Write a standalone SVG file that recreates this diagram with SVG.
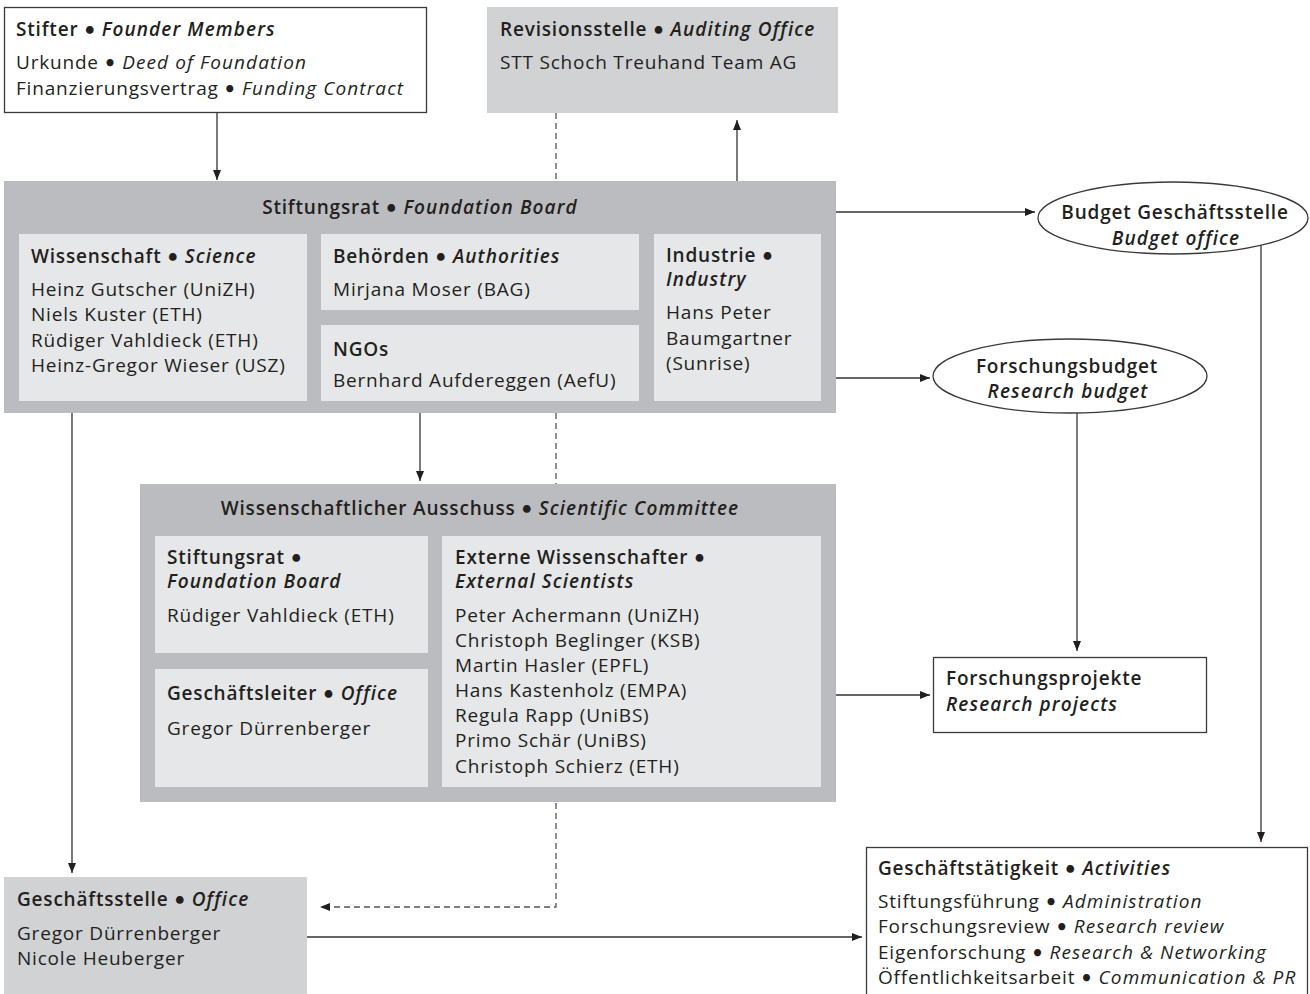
<svg xmlns="http://www.w3.org/2000/svg" width="1310" height="994" viewBox="0 0 1310 994">
<style>
text{font-family:"Open Sans",Lato,"Liberation Sans",sans-serif;font-size:19px;letter-spacing:0.8px;fill:#231f20}
.h{font-weight:600}
.i{font-style:italic;letter-spacing:1.1px}
.b{font-family:Lato,"Open Sans",sans-serif;font-style:normal}
.c{text-anchor:middle}
.outline{fill:#fff;stroke:#3a3a3a;stroke-width:1.3}
.grey{fill:#d1d2d4}
.dark{fill:#bbbcbf}
.light{fill:#e6e7e8}
.con{fill:none;stroke:#333;stroke-width:1.3}
.dash{fill:none;stroke:#555;stroke-width:1.3;stroke-dasharray:6 4}
</style>
<defs>
<marker id="ah" markerUnits="userSpaceOnUse" markerWidth="11" markerHeight="9" refX="10" refY="4" orient="auto">
<path d="M0,0 L10,4 L0,8 z" fill="#231f20"/>
</marker>
</defs>
<rect width="1310" height="994" fill="#fff"/>
<g id="connectors">
<path class="dash" d="M556 113 V907 H320" marker-end="url(#ah)"/>
<path class="con" d="M217 113 V180" marker-end="url(#ah)"/>
<path class="con" d="M737 181 V120" marker-end="url(#ah)"/>
<path class="con" d="M836 212 H1035" marker-end="url(#ah)"/>
<path class="con" d="M836 378 H930" marker-end="url(#ah)"/>
<path class="con" d="M420 413 V481" marker-end="url(#ah)"/>
<path class="con" d="M72 413 V873" marker-end="url(#ah)"/>
<path class="con" d="M1261 245 V842" marker-end="url(#ah)"/>
<path class="con" d="M1077 413 V651" marker-end="url(#ah)"/>
<path class="con" d="M836 695 H930" marker-end="url(#ah)"/>
<path class="con" d="M307 937 H862" marker-end="url(#ah)"/>
</g>
<g id="stifter">
<rect class="outline" x="4.5" y="7.5" width="422" height="105"/>
<text x="16" y="36" class="h">Stifter <tspan class="b">•</tspan> <tspan class="i">Founder Members</tspan></text>
<text x="16" y="69">Urkunde <tspan class="b">•</tspan> <tspan class="i">Deed of Foundation</tspan></text>
<text x="16" y="95">Finanzierungsvertrag <tspan class="b">•</tspan> <tspan class="i">Funding Contract</tspan></text>
</g>
<g id="revisionsstelle">
<rect class="grey" x="487" y="7" width="351" height="106"/>
<text x="500" y="36" class="h">Revisionsstelle <tspan class="b">•</tspan> <tspan class="i">Auditing Office</tspan></text>
<text x="500" y="69">STT Schoch Treuhand Team AG</text>
</g>
<g id="stiftungsrat">
<rect class="dark" x="4" y="181" width="832" height="232"/>
<text x="420" y="214" class="h c">Stiftungsrat <tspan class="b">•</tspan> <tspan class="i">Foundation Board</tspan></text>
<g id="wissenschaft">
<rect class="light" x="19" y="234" width="288" height="167"/>
<text x="31" y="263" class="h">Wissenschaft <tspan class="b">•</tspan> <tspan class="i">Science</tspan></text>
<text x="31" y="296">Heinz Gutscher (UniZH)</text>
<text x="31" y="321">Niels Kuster (ETH)</text>
<text x="31" y="347">Rüdiger Vahldieck (ETH)</text>
<text x="31" y="372">Heinz-Gregor Wieser (USZ)</text>
</g>
<g id="behoerden">
<rect class="light" x="321" y="234" width="318" height="76"/>
<text x="333" y="263" class="h">Behörden <tspan class="b">•</tspan> <tspan class="i">Authorities</tspan></text>
<text x="333" y="296">Mirjana Moser (BAG)</text>
</g>
<g id="ngos">
<rect class="light" x="321" y="325" width="318" height="76"/>
<text x="333" y="356" class="h">NGOs</text>
<text x="333" y="387">Bernhard Aufdereggen (AefU)</text>
</g>
<g id="industrie">
<rect class="light" x="654" y="234" width="167" height="167"/>
<text x="666" y="262" class="h">Industrie <tspan class="b">•</tspan></text>
<text x="666" y="286" class="h i">Industry</text>
<text x="666" y="319">Hans Peter</text>
<text x="666" y="345">Baumgartner</text>
<text x="666" y="370">(Sunrise)</text>
</g>
</g>
<g id="budget-geschaeftsstelle">
<ellipse class="outline" cx="1173" cy="218" rx="135" ry="36"/>
<text x="1175" y="219" class="h c">Budget Geschäftsstelle</text>
<text x="1176" y="245" class="h i c">Budget office</text>
</g>
<g id="forschungsbudget">
<ellipse class="outline" cx="1070" cy="376" rx="137" ry="37"/>
<text x="1067" y="373" class="h c">Forschungsbudget</text>
<text x="1068" y="398" class="h i c">Research budget</text>
</g>
<g id="ausschuss">
<rect class="dark" x="140" y="484" width="696" height="318"/>
<text x="480" y="515" class="h c">Wissenschaftlicher Ausschuss <tspan class="b">•</tspan> <tspan class="i">Scientific Committee</tspan></text>
<g id="ausschuss-stiftungsrat">
<rect class="light" x="155" y="536" width="273" height="117"/>
<text x="167" y="564" class="h">Stiftungsrat <tspan class="b">•</tspan></text>
<text x="167" y="588" class="h i">Foundation Board</text>
<text x="167" y="622">Rüdiger Vahldieck (ETH)</text>
</g>
<g id="geschaeftsleiter">
<rect class="light" x="155" y="669" width="273" height="118"/>
<text x="167" y="700" class="h">Geschäftsleiter <tspan class="b">•</tspan> <tspan class="i">Office</tspan></text>
<text x="167" y="735">Gregor Dürrenberger</text>
</g>
<g id="externe">
<rect class="light" x="442" y="536" width="379" height="251"/>
<text x="455" y="564" class="h">Externe Wissenschafter <tspan class="b">•</tspan></text>
<text x="455" y="588" class="h i">External Scientists</text>
<text x="455" y="622">Peter Achermann (UniZH)</text>
<text x="455" y="647">Christoph Beglinger (KSB)</text>
<text x="455" y="672">Martin Hasler (EPFL)</text>
<text x="455" y="697">Hans Kastenholz (EMPA)</text>
<text x="455" y="722">Regula Rapp (UniBS)</text>
<text x="455" y="747">Primo Schär (UniBS)</text>
<text x="455" y="773">Christoph Schierz (ETH)</text>
</g>
</g>
<g id="forschungsprojekte">
<rect class="outline" x="933.5" y="657.5" width="273" height="75"/>
<text x="946" y="685" class="h">Forschungsprojekte</text>
<text x="946" y="711" class="h i">Research projects</text>
</g>
<g id="geschaeftsstelle">
<rect class="grey" x="4" y="877" width="303" height="117"/>
<text x="17" y="906" class="h">Geschäftsstelle <tspan class="b">•</tspan> <tspan class="i">Office</tspan></text>
<text x="17" y="940">Gregor Dürrenberger</text>
<text x="17" y="965">Nicole Heuberger</text>
</g>
<g id="geschaeftstaetigkeit">
<rect class="outline" x="866.5" y="847.5" width="441" height="160"/>
<text x="878" y="875" class="h">Geschäftstätigkeit <tspan class="b">•</tspan> <tspan class="i">Activities</tspan></text>
<text x="878" y="908">Stiftungsführung <tspan class="b">•</tspan> <tspan class="i">Administration</tspan></text>
<text x="878" y="933">Forschungsreview <tspan class="b">•</tspan> <tspan class="i">Research review</tspan></text>
<text x="878" y="959">Eigenforschung <tspan class="b">•</tspan> <tspan class="i">Research &amp; Networking</tspan></text>
<text x="878" y="984">Öffentlichkeitsarbeit <tspan class="b">•</tspan> <tspan class="i">Communication &amp; PR</tspan></text>
</g>
</svg>
